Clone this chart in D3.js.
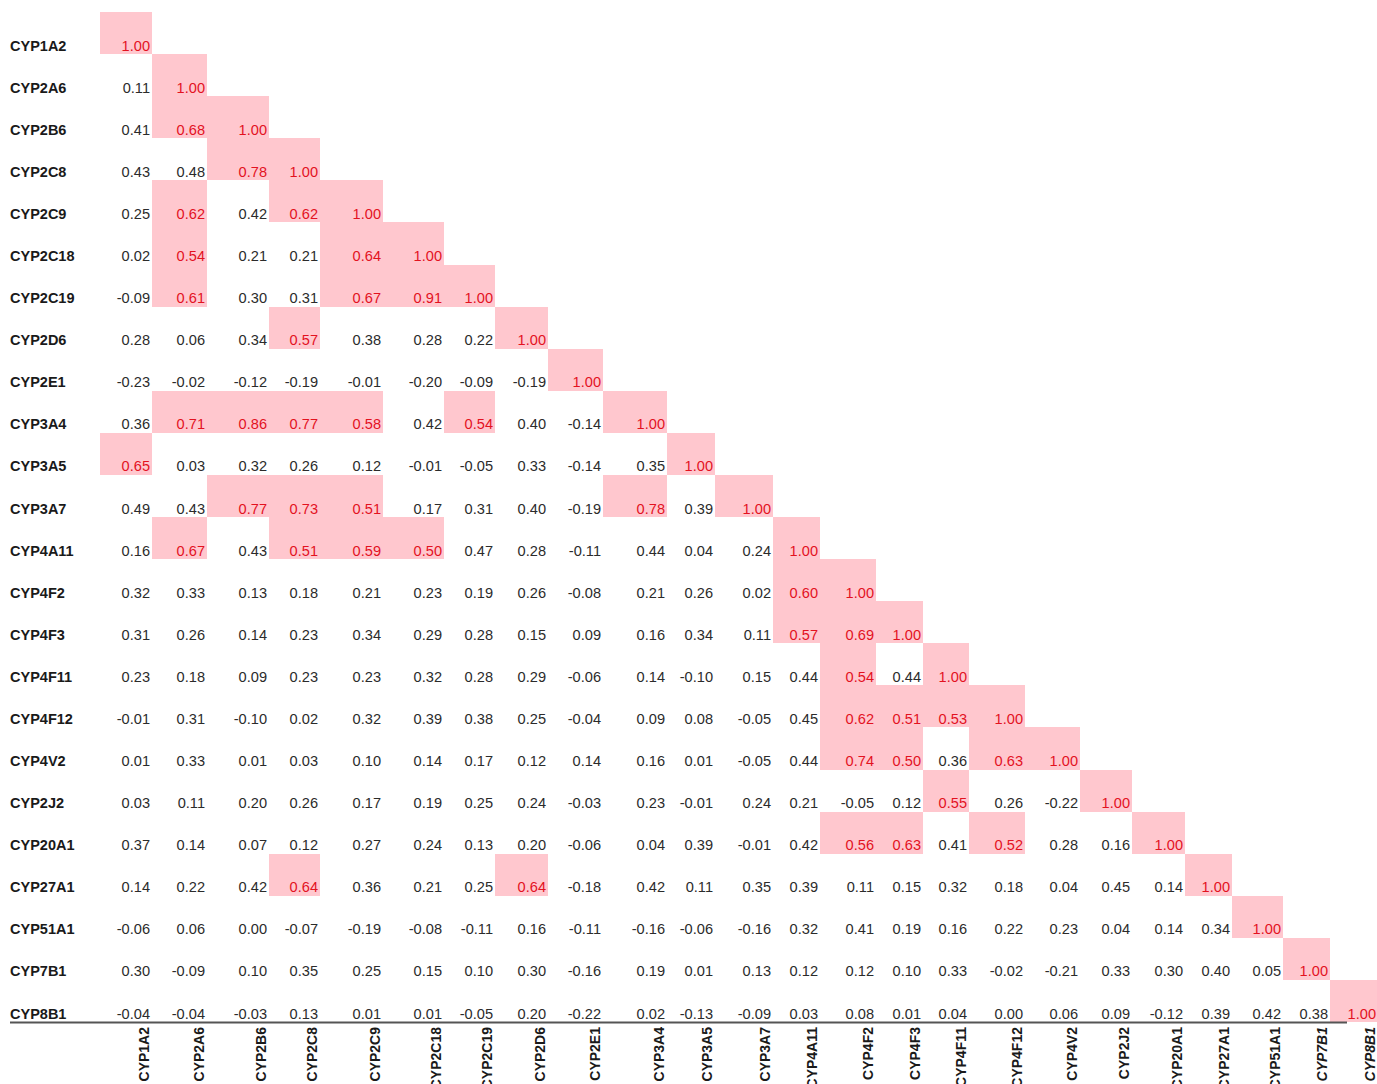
<!DOCTYPE html>
<html>
<head>
<meta charset="utf-8">
<script src="https://cdn.jsdelivr.net/npm/d3@7/dist/d3.min.js"></script>
<style>
  html, body { margin: 0; padding: 0; background: #fff; }
  svg { display: block; }
  text { font-family: "Liberation Sans", Arial, sans-serif; }
</style>
</head>
<body>
<svg id="chart" width="1377" height="1084"></svg>
<script>
// ---- data ----
const genes = ["CYP1A2","CYP2A6","CYP2B6","CYP2C8","CYP2C9","CYP2C18","CYP2C19","CYP2D6","CYP2E1",
  "CYP3A4","CYP3A5","CYP3A7","CYP4A11","CYP4F2","CYP4F3","CYP4F11","CYP4F12","CYP4V2","CYP2J2",
  "CYP20A1","CYP27A1","CYP51A1","CYP7B1","CYP8B1"];

const r01 = [1.00];
const r02 = [0.11, 1.00];
const r03 = [0.41, 0.68, 1.00];
const r04 = [0.43, 0.48, 0.78, 1.00];
const r05 = [0.25, 0.62, 0.42, 0.62, 1.00];
const r06 = [0.02, 0.54, 0.21, 0.21, 0.64, 1.00];
const r07 = [-0.09, 0.61, 0.30, 0.31, 0.67, 0.91, 1.00];
const r08 = [0.28, 0.06, 0.34, 0.57, 0.38, 0.28, 0.22, 1.00];
const r09 = [-0.23, -0.02, -0.12, -0.19, -0.01, -0.20, -0.09, -0.19, 1.00];
const r10 = [0.36, 0.71, 0.86, 0.77, 0.58, 0.42, 0.54, 0.40, -0.14, 1.00];
const r11 = [0.65, 0.03, 0.32, 0.26, 0.12, -0.01, -0.05, 0.33, -0.14, 0.35, 1.00];
const r12 = [0.49, 0.43, 0.77, 0.73, 0.51, 0.17, 0.31, 0.40, -0.19, 0.78, 0.39, 1.00];
const r13 = [0.16, 0.67, 0.43, 0.51, 0.59, 0.50, 0.47, 0.28, -0.11, 0.44, 0.04, 0.24, 1.00];
const r14 = [0.32, 0.33, 0.13, 0.18, 0.21, 0.23, 0.19, 0.26, -0.08, 0.21, 0.26, 0.02, 0.60, 1.00];
const r15 = [0.31, 0.26, 0.14, 0.23, 0.34, 0.29, 0.28, 0.15, 0.09, 0.16, 0.34, 0.11, 0.57, 0.69, 1.00];
const r16 = [0.23, 0.18, 0.09, 0.23, 0.23, 0.32, 0.28, 0.29, -0.06, 0.14, -0.10, 0.15, 0.44, 0.54, 0.44, 1.00];
const r17 = [-0.01, 0.31, -0.10, 0.02, 0.32, 0.39, 0.38, 0.25, -0.04, 0.09, 0.08, -0.05, 0.45, 0.62, 0.51, 0.53, 1.00];
const r18 = [0.01, 0.33, 0.01, 0.03, 0.10, 0.14, 0.17, 0.12, 0.14, 0.16, 0.01, -0.05, 0.44, 0.74, 0.50, 0.36, 0.63, 1.00];
const r19 = [0.03, 0.11, 0.20, 0.26, 0.17, 0.19, 0.25, 0.24, -0.03, 0.23, -0.01, 0.24, 0.21, -0.05, 0.12, 0.55, 0.26, -0.22, 1.00];
const r20 = [0.37, 0.14, 0.07, 0.12, 0.27, 0.24, 0.13, 0.20, -0.06, 0.04, 0.39, -0.01, 0.42, 0.56, 0.63, 0.41, 0.52, 0.28, 0.16, 1.00];
const r21 = [0.14, 0.22, 0.42, 0.64, 0.36, 0.21, 0.25, 0.64, -0.18, 0.42, 0.11, 0.35, 0.39, 0.11, 0.15, 0.32, 0.18, 0.04, 0.45, 0.14, 1.00];
const r22 = [-0.06, 0.06, 0.00, -0.07, -0.19, -0.08, -0.11, 0.16, -0.11, -0.16, -0.06, -0.16, 0.32, 0.41, 0.19, 0.16, 0.22, 0.23, 0.04, 0.14, 0.34, 1.00];
const r23 = [0.30, -0.09, 0.10, 0.35, 0.25, 0.15, 0.10, 0.30, -0.16, 0.19, 0.01, 0.13, 0.12, 0.12, 0.10, 0.33, -0.02, -0.21, 0.33, 0.30, 0.40, 0.05, 1.00];
const r24 = [-0.04, -0.04, -0.03, 0.13, 0.01, 0.01, -0.05, 0.20, -0.22, 0.02, -0.13, -0.09, 0.03, 0.08, 0.01, 0.04, 0.00, 0.06, 0.09, -0.12, 0.39, 0.42, 0.38, 1.00];

const rows = [r01,r02,r03,r04,r05,r06,r07,r08,r09,r10,r11,r12,r13,r14,r15,r16,r17,r18,r19,r20,r21,r22,r23,r24];
const threshold = 0.5;
const italicLabels = ["CYP7B1", "CYP8B1"];

// ---- layout (table column widths, like the original spreadsheet) ----
const colWidths = [52,55,62,51,63,61,51,53,55,64,48,58,47,56,47,46,56,55,52,53,47,51,47,48];
const tableLeft = 100, tableTop = 12, tableBottom = 1022;

// ---- scales ----
const edges = d3.cumsum([tableLeft].concat(colWidths));
const xLeft = d3.scaleOrdinal().domain(genes).range(edges.slice(0, genes.length));
const xWidth = d3.scaleOrdinal().domain(genes).range(colWidths);
const y = d3.scaleBand().domain(genes).range([tableTop, tableBottom]).padding(0);

const fill = d3.scaleThreshold().domain([threshold]).range(["none", "#ffc7ce"]);
const textColor = d3.scaleThreshold().domain([threshold]).range(["#2b2b2b", "#e3121f"]);
const fmt = d3.formatLocale({ decimal: ".", thousands: ",", grouping: [3], currency: ["", ""], minus: "-" }).format(".2f");

const cells = [];
rows.forEach((vals, i) => vals.forEach((v, j) => cells.push({ row: genes[i], col: genes[j], v })));

const svg = d3.select("#chart");

// highlight fills
svg.append("g").selectAll("rect")
  .data(cells.filter(d => d.v >= threshold))
  .join("rect")
  .attr("x", d => xLeft(d.col))
  .attr("y", d => y(d.row))
  .attr("width", d => xWidth(d.col))
  .attr("height", y.bandwidth())
  .attr("fill", d => fill(d.v))
  .attr("shape-rendering", "crispEdges");

// values
svg.append("g").selectAll("text")
  .data(cells)
  .join("text")
  .attr("x", d => xLeft(d.col) + xWidth(d.col) - 2)
  .attr("y", d => y(d.row) + y.bandwidth() - 3.5)
  .attr("text-anchor", "end")
  .attr("font-size", "14.6px")
  .attr("fill", d => textColor(d.v))
  .text(d => fmt(d.v));

// row labels
svg.append("g").selectAll("text")
  .data(genes)
  .join("text")
  .attr("x", 10)
  .attr("y", d => y(d) + y.bandwidth() - 3.5)
  .attr("font-size", "14.5px")
  .attr("font-weight", "bold")
  .attr("fill", "#1a1a1a")
  .text(d => d);

// bottom rule
svg.append("line")
  .attr("x1", 10).attr("x2", xLeft(genes[genes.length - 1]) + 17)
  .attr("y1", tableBottom + 0.5).attr("y2", tableBottom + 0.5)
  .attr("stroke", "#555").attr("stroke-width", 2);

// column labels (rotated)
svg.append("g").selectAll("text")
  .data(genes)
  .join("text")
  .attr("transform", d => `translate(${xLeft(d) + xWidth(d) - 8},${tableBottom + 5}) rotate(-90)`)
  .attr("text-anchor", "end")
  .attr("dy", "0.36em")
  .attr("font-size", "14px")
  .attr("font-weight", "bold")
  .attr("font-style", d => italicLabels.includes(d) ? "italic" : "normal")
  .attr("fill", "#1a1a1a")
  .text(d => d);
</script>
</body>
</html>
